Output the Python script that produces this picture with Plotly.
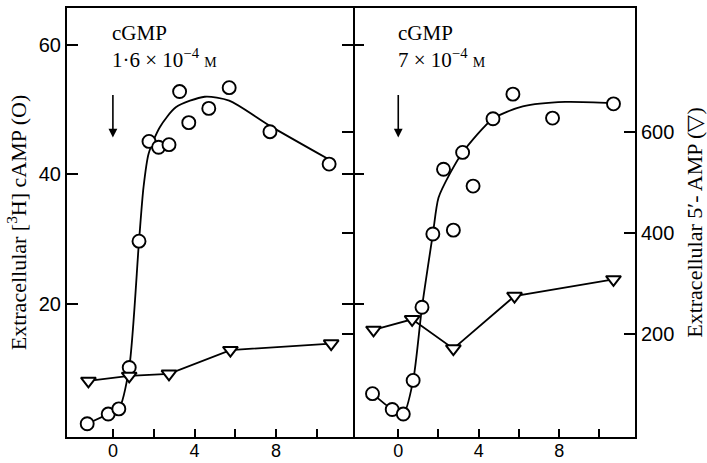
import plotly.graph_objects as go

# ---------------- data ----------------
# time axis values (min), panel 1: cGMP 1.6e-4 M
p1_camp_t = [-1.26, -0.23, 0.29, 0.80, 1.28, 1.77, 2.24, 2.75, 3.27, 3.72, 4.70, 5.70, 7.70, 10.60]
p1_camp   = [1.5, 3.0, 3.8, 10.2, 29.7, 45.1, 44.2, 44.6, 52.8, 48.0, 50.2, 53.4, 46.6, 41.6]
p1_curve_t = [-1.26, -0.23, 0.29, 0.80, 1.28, 1.50, 1.75, 2.30, 3.10, 4.50, 5.70, 7.70, 10.60]
p1_curve   = [1.5, 3.0, 3.8, 10.2, 29.7, 38.0, 43.2, 47.3, 50.4, 52.0, 51.4, 47.5, 42.3]
p1_amp_t = [-1.20, 0.80, 2.75, 5.76, 10.70]
p1_amp   = [107, 117, 121, 168, 181]

# panel 2: cGMP 7e-4 M
p2_camp_t = [-1.28, -0.30, 0.25, 0.74, 1.18, 1.72, 2.74, 2.25, 3.20, 3.72, 4.71, 5.70, 7.67, 10.70]
p2_camp   = [6.15, 3.7, 3.0, 8.2, 19.5, 30.8, 31.4, 40.8, 43.4, 38.2, 48.6, 52.4, 48.7, 50.9]
p2_curve_t = [-1.28, -0.30, 0.25, 0.74, 1.18, 1.72, 2.00, 2.58, 3.20, 4.71, 6.19, 8.30, 10.70]
p2_curve   = [6.15, 3.7, 3.0, 8.2, 19.5, 30.8, 36.4, 40.2, 43.4, 48.6, 50.5, 51.2, 51.0]
p2_amp_t = [-1.23, 0.69, 2.74, 5.78, 10.70]
p2_amp   = [208, 229, 171, 275, 308]

# arrows marking cGMP addition (time, top, bottom in cAMP units)
arrow_t = 0.0
arrow_top = 52.5
arrow_bottom = 45.7

# ticks
x_tickvals = [0, 4, 8]
x_minor_tickvals = [2, 6, 10]
left_tickvals = [20, 40, 60]
right_tickvals = [200, 400, 600]

panel_labels = ["cGMP<br>1·6 × 10<sup>−4</sup> <span style='font-size:14px'>M</span>",
                "cGMP<br>7 × 10<sup>−4</sup> <span style='font-size:14px'>M</span>"]
left_title = "Extracellular [<sup>3</sup>H] cAMP (O)"
right_title = "Extracellular 5′- AMP (▽)"

# ---------------- figure ----------------
L_RANGE = [-0.54, 65.7]
R_RANGE = [-4.0, 845.5]
X_RANGE = [-2.25, 11.77]
SPLIT = 286 / 568

fig = go.Figure()

line_style = dict(color="black", width=1.8)
circ = dict(symbol="circle", size=13, color="white", line=dict(color="black", width=1.9))
tri = dict(symbol="triangle-down", size=13, color="white", line=dict(color="black", width=2))

# panel 1
fig.add_trace(go.Scatter(x=p1_curve_t, y=p1_curve, mode="lines", line=dict(shape="spline", smoothing=0.7, **line_style),
                         xaxis="x", yaxis="y", hoverinfo="skip"))
fig.add_trace(go.Scatter(x=p1_amp_t, y=p1_amp, mode="lines+markers", line=line_style, marker=tri,
                         xaxis="x", yaxis="y4"))
fig.add_trace(go.Scatter(x=p1_camp_t, y=p1_camp, mode="markers", marker=circ, xaxis="x", yaxis="y"))

# panel 2
fig.add_trace(go.Scatter(x=p2_curve_t, y=p2_curve, mode="lines", line=dict(shape="spline", smoothing=0.7, **line_style),
                         xaxis="x2", yaxis="y3", hoverinfo="skip"))
fig.add_trace(go.Scatter(x=p2_amp_t, y=p2_amp, mode="lines+markers", line=line_style, marker=tri,
                         xaxis="x2", yaxis="y2"))
fig.add_trace(go.Scatter(x=p2_camp_t, y=p2_camp, mode="markers", marker=circ, xaxis="x2", yaxis="y3"))

tickfont = dict(family="Liberation Sans", size=20, color="black")
xtickfont = dict(family="Liberation Sans", size=18, color="black")
serif = dict(family="Liberation Serif", size=22, color="black")

xcommon = dict(range=X_RANGE, tickvals=x_tickvals, ticks="inside", ticklen=8,
               tickwidth=2, tickcolor="black", showline=True, linecolor="black", linewidth=2,
               mirror=True, showgrid=False, zeroline=False, tickfont=xtickfont, anchor="y",
               automargin=False, ticklabelstandoff=-4,
               minor=dict(tickvals=x_minor_tickvals, ticks="inside", ticklen=8, tickwidth=2,
                          tickcolor="black", showgrid=False))

tick_only = dict(ticks="inside", ticklen=11, tickwidth=2, tickcolor="black", showline=False,
                 showticklabels=False, showgrid=False, zeroline=False, overlaying="y")

fig.update_layout(
    width=707, height=463,
    margin=dict(l=67, r=72, t=8, b=26),
    paper_bgcolor="white", plot_bgcolor="rgba(0,0,0,0)",
    showlegend=False,
    xaxis=dict(domain=[0, SPLIT], **xcommon),
    xaxis2=dict(domain=[SPLIT, 1], **xcommon),
    yaxis=dict(range=L_RANGE, anchor="x", side="left", tickvals=left_tickvals, ticks="inside",
               ticklen=11, tickwidth=2, tickcolor="black", showline=True, linecolor="black",
               linewidth=2, mirror="ticks", showgrid=False, zeroline=False, tickfont=tickfont,
               title=dict(text=left_title, font=serif, standoff=6), automargin=False),
    yaxis2=dict(range=R_RANGE, anchor="x2", side="right", overlaying="y", tickvals=right_tickvals,
                ticks="inside", ticklen=11, tickwidth=2, tickcolor="black", showline=True,
                linecolor="black", linewidth=2, mirror=False, showgrid=False, zeroline=False,
                tickfont=tickfont, title=dict(text=right_title, font=serif, standoff=22),
                automargin=False),
    # extra tick sets on the shared divider between panels
    yaxis3=dict(range=L_RANGE, anchor="x2", side="left", tickvals=left_tickvals, **tick_only),
    yaxis4=dict(range=R_RANGE, anchor="x", side="right", tickvals=right_tickvals, **tick_only),
    yaxis5=dict(range=R_RANGE, anchor="x2", side="left", tickvals=right_tickvals, **tick_only),
)

annfont = dict(family="Liberation Serif", size=21, color="black")
for xr, yr, label in [("x", "y", panel_labels[0]), ("x2", "y3", panel_labels[1])]:
    fig.add_annotation(x=-0.12, y=64.0, xref=xr, yref=yr, text=label, showarrow=False,
                       xanchor="left", yanchor="top", align="left", font=annfont)
    fig.add_annotation(x=arrow_t, y=arrow_bottom, ax=arrow_t, ay=arrow_top, xref=xr, yref=yr,
                       axref=xr, ayref=yr, text="", showarrow=True, arrowhead=2, arrowsize=1.1,
                       arrowwidth=1.6, arrowcolor="black")

fig.write_html("out.html")
